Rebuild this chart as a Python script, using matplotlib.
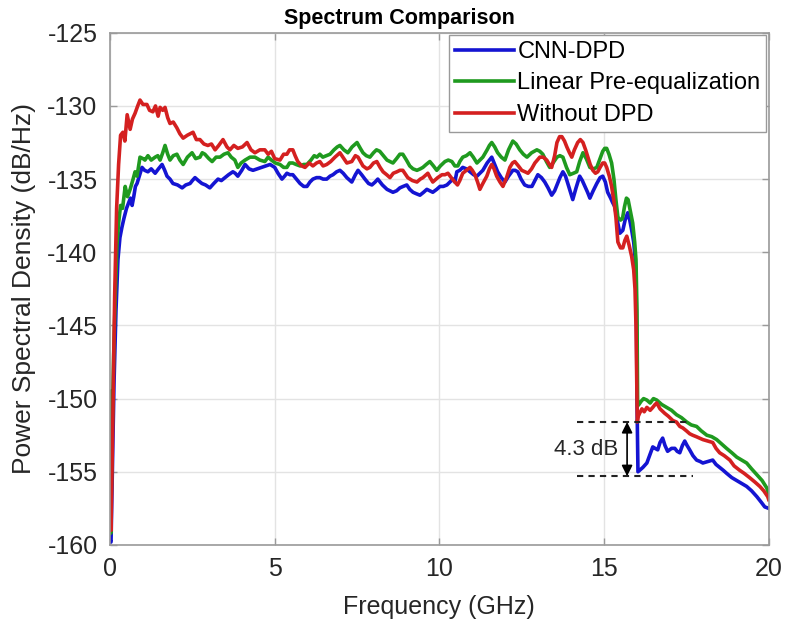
import matplotlib
matplotlib.use('Agg')
import matplotlib.pyplot as plt

plt.rcParams['font.family'] = ['Liberation Sans', 'DejaVu Sans']
plt.rcParams['axes.unicode_minus'] = False

# ---- data (frequency in GHz, PSD in dB/Hz) ----
cnn_freq = [0.00, 0.03, 0.07, 0.12, 0.18, 0.24, 0.30, 0.36, 0.42, 0.50, 0.57, 0.62, 0.67, 0.72, 0.77,
            0.82, 0.90, 0.97, 1.05, 1.15, 1.25, 1.37, 1.47, 1.58, 1.66, 1.73, 1.82, 1.91, 2.05, 2.19,
            2.30, 2.43, 2.50, 2.58, 2.68, 2.79, 2.90, 3.03, 3.15, 3.28, 3.38, 3.49, 3.60, 3.73, 3.80,
            3.88, 4.00, 4.10, 4.22, 4.34, 4.47, 4.61, 4.74, 4.86, 5.00, 5.10, 5.22, 5.30, 5.37, 5.46,
            5.55, 5.66, 5.77, 5.88, 5.98, 6.07, 6.16, 6.27, 6.37, 6.47, 6.58, 6.68, 6.77, 6.88, 6.98,
            7.08, 7.19, 7.34, 7.45, 7.53, 7.64, 7.74, 7.85, 7.95, 8.05, 8.13, 8.27, 8.41, 8.50, 8.59,
            8.70, 8.80, 8.90, 9.01, 9.10, 9.20, 9.30, 9.41, 9.52, 9.62, 9.71, 9.80, 9.92, 10.02, 10.12,
            10.23, 10.32, 10.41, 10.47, 10.53, 10.62, 10.71, 10.82, 10.93, 11.04, 11.14, 11.23, 11.32,
            11.45, 11.59, 11.68, 11.77, 11.88, 11.99, 12.10, 12.23, 12.30, 12.38, 12.48, 12.59, 12.70,
            12.81, 12.90, 12.99, 13.10, 13.20, 13.30, 13.41, 13.50, 13.57, 13.66, 13.75, 13.83, 13.90,
            13.98, 14.05, 14.15, 14.26, 14.34, 14.42, 14.50, 14.57, 14.67, 14.78, 14.88, 14.96, 15.04,
            15.11, 15.20, 15.26, 15.33, 15.40, 15.48, 15.57, 15.64, 15.72, 15.78, 15.84, 15.90, 15.94,
            15.97, 15.99, 16.00, 16.03, 16.08, 16.18, 16.30, 16.40, 16.48, 16.55, 16.63, 16.70, 16.78,
            16.85, 16.93, 17.05, 17.15, 17.22, 17.30, 17.38, 17.45, 17.52, 17.60, 17.70, 17.81, 17.92,
            18.00, 18.15, 18.30, 18.40, 18.51, 18.62, 18.72, 18.88, 19.03, 19.18, 19.33, 19.48, 19.64,
            19.78, 19.88, 20.00]
cnn_psd = [-159.7, -159.8, -155.0, -149.0, -144.0, -140.5, -139.0, -138.3, -137.7, -137.0, -136.6, -136.3,
           -136.8, -136.2, -135.5, -135.3, -134.7, -134.2, -134.4, -134.5, -134.3, -134.6, -134.3, -134.0,
           -134.4, -134.8, -135.0, -135.3, -135.4, -135.6, -135.4, -135.3, -135.1, -134.9, -135.1, -135.3,
           -135.4, -135.6, -135.3, -135.0, -135.1, -134.9, -134.7, -134.5, -134.6, -134.8, -134.4, -134.0,
           -134.3, -134.4, -134.3, -134.2, -134.1, -134.0, -134.2, -134.6, -135.0, -134.8, -134.6, -134.7,
           -134.7, -135.0, -135.3, -135.5, -135.5, -135.2, -135.0, -134.9, -134.9, -135.0, -135.0, -134.8,
           -134.7, -134.5, -134.4, -134.6, -134.9, -135.2, -134.7, -134.4, -134.7, -135.0, -135.3, -135.4,
           -135.2, -135.0, -135.4, -135.7, -135.8, -135.9, -135.8, -135.6, -135.5, -135.4, -135.7, -135.9,
           -136.0, -136.1, -135.9, -135.7, -135.8, -135.9, -135.7, -135.5, -135.5, -135.4, -135.2, -135.0,
           -135.2, -134.5, -134.4, -134.2, -134.3, -134.5, -134.7, -134.8, -134.6, -134.4, -133.9, -133.5,
           -134.0, -134.5, -134.9, -135.2, -134.8, -134.4, -134.4, -134.5, -135.0, -135.4, -135.5, -135.5,
           -135.1, -134.7, -134.9, -135.2, -135.6, -136.1, -135.8, -135.4, -134.9, -134.5, -134.8, -135.3,
           -135.9, -136.4, -135.6, -134.8, -135.1, -135.5, -135.9, -136.3, -135.8, -135.3, -134.9, -134.8,
           -135.2, -135.9, -136.3, -136.6, -136.9, -137.8, -138.7, -138.5, -137.8, -137.3, -137.8, -138.5,
           -139.3, -140.3, -141.5, -146.0, -150.0, -155.0, -154.9, -154.7, -154.4, -153.8, -153.3, -153.4,
           -153.5, -153.0, -152.7, -153.2, -153.6, -153.4, -153.4, -153.6, -153.7, -153.2, -152.9, -153.2,
           -153.5, -153.9, -154.2, -154.3, -154.4, -154.3, -154.2, -154.5, -154.7, -154.9, -155.1, -155.4,
           -155.6, -155.8, -156.0, -156.3, -156.7, -157.1, -157.4, -157.5]

lin_freq = [0.00, 0.02, 0.06, 0.11, 0.16, 0.21, 0.26, 0.32, 0.38, 0.46, 0.53, 0.61, 0.70, 0.76, 0.82,
            0.91, 1.00, 1.06, 1.15, 1.25, 1.37, 1.45, 1.52, 1.60, 1.67, 1.75, 1.82, 1.92, 2.03, 2.12,
            2.22, 2.35, 2.49, 2.60, 2.73, 2.80, 2.88, 3.00, 3.10, 3.22, 3.34, 3.46, 3.58, 3.68, 3.79,
            3.88, 3.98, 4.10, 4.25, 4.40, 4.55, 4.70, 4.80, 4.90, 5.02, 5.16, 5.27, 5.37, 5.45, 5.55,
            5.65, 5.77, 5.88, 5.98, 6.10, 6.20, 6.28, 6.37, 6.46, 6.57, 6.68, 6.80, 6.90, 6.98, 7.10,
            7.22, 7.35, 7.50, 7.60, 7.68, 7.78, 7.89, 8.00, 8.09, 8.19, 8.30, 8.41, 8.50, 8.59, 8.70,
            8.80, 8.89, 9.00, 9.10, 9.20, 9.32, 9.42, 9.50, 9.60, 9.71, 9.82, 9.92, 10.03, 10.17, 10.27,
            10.38, 10.47, 10.56, 10.62, 10.71, 10.82, 10.93, 11.03, 11.14, 11.23, 11.32, 11.45, 11.52,
            11.59, 11.68, 11.77, 11.88, 11.99, 12.10, 12.23, 12.33, 12.44, 12.55, 12.66, 12.80, 12.96,
            13.05, 13.14, 13.25, 13.35, 13.45, 13.57, 13.66, 13.75, 13.86, 13.96, 14.07, 14.17, 14.26,
            14.36, 14.46, 14.57, 14.68, 14.78, 14.88, 14.96, 15.02, 15.08, 15.15, 15.23, 15.30, 15.36,
            15.42, 15.50, 15.56, 15.62, 15.68, 15.73, 15.80, 15.87, 15.93, 15.97, 16.00, 16.02, 16.06,
            16.12, 16.20, 16.30, 16.40, 16.50, 16.60, 16.75, 16.90, 17.05, 17.20, 17.35, 17.51, 17.65,
            17.81, 17.95, 18.12, 18.27, 18.42, 18.57, 18.72, 18.88, 19.03, 19.18, 19.33, 19.48, 19.64,
            19.80, 19.94, 20.00]
lin_psd = [-149.5, -159.2, -153.0, -147.0, -143.0, -139.5, -138.0, -136.8, -137.0, -135.5, -136.2, -135.7,
           -135.0, -134.5, -134.8, -133.5, -133.6, -133.7, -133.4, -133.7, -133.5, -133.4, -133.7, -133.2,
           -132.7, -133.3, -133.7, -133.4, -133.3, -133.7, -134.0, -133.5, -133.2, -133.6, -133.5, -133.2,
           -133.3, -133.6, -133.8, -133.5, -133.5, -133.3, -133.2, -133.5, -133.7, -134.2, -133.9, -133.7,
           -133.5, -133.5, -133.7, -133.8, -133.5, -133.7, -133.9, -134.0, -134.2, -134.2, -133.9, -133.9,
           -134.0, -134.1, -134.0, -134.0, -133.7, -133.4, -133.5, -133.3, -133.5, -133.4, -133.3, -133.0,
           -132.8, -132.7, -133.0, -133.2, -132.8, -132.5, -132.9, -133.2, -133.4, -133.5, -133.2, -133.0,
           -133.1, -133.4, -133.7, -133.8, -133.9, -133.6, -133.3, -133.3, -133.7, -134.1, -134.3, -134.4,
           -134.3, -134.2, -134.0, -133.8, -134.1, -134.4, -134.1, -133.8, -133.7, -133.8, -134.1, -134.1,
           -133.8, -133.5, -133.4, -133.2, -133.5, -133.9, -133.7, -133.5, -133.0, -132.7, -132.5, -132.8,
           -133.2, -133.5, -133.7, -133.0, -132.4, -132.6, -133.0, -133.3, -133.5, -133.2, -133.0, -133.1,
           -133.3, -133.8, -134.2, -133.9, -133.5, -133.4, -133.5, -134.2, -134.7, -134.6, -134.5, -133.8,
           -133.2, -133.6, -134.2, -134.3, -134.2, -133.6, -133.1, -132.9, -132.9, -133.3, -133.9, -135.0,
           -136.4, -137.6, -137.8, -137.7, -136.9, -136.3, -136.4, -137.2, -138.0, -139.3, -140.5, -144.0,
           -150.5, -150.4, -150.2, -150.0, -150.1, -150.3, -150.0, -150.1, -150.4, -150.6, -150.8, -151.1,
           -151.3, -151.6, -151.8, -151.9, -152.2, -152.5, -152.6, -152.8, -153.1, -153.4, -153.7, -154.0,
           -154.2, -154.4, -154.8, -155.2, -155.6, -156.1, -156.5]

raw_freq = [0.00, 0.03, 0.08, 0.14, 0.20, 0.26, 0.32, 0.39, 0.45, 0.52, 0.61, 0.68, 0.76, 0.84, 0.91,
            1.00, 1.12, 1.20, 1.30, 1.38, 1.46, 1.52, 1.60, 1.67, 1.75, 1.82, 1.92, 2.03, 2.12, 2.22,
            2.35, 2.52, 2.62, 2.73, 2.85, 2.97, 3.08, 3.19, 3.30, 3.43, 3.55, 3.64, 3.76, 3.88, 4.02,
            4.16, 4.28, 4.40, 4.55, 4.70, 4.80, 4.90, 5.00, 5.16, 5.27, 5.37, 5.45, 5.55, 5.62, 5.70,
            5.82, 5.92, 6.05, 6.16, 6.27, 6.37, 6.47, 6.58, 6.70, 6.83, 6.98, 7.10, 7.19, 7.34, 7.45,
            7.53, 7.68, 7.80, 7.89, 8.00, 8.10, 8.20, 8.29, 8.40, 8.50, 8.60, 8.71, 8.80, 8.89, 9.04,
            9.18, 9.32, 9.42, 9.50, 9.65, 9.72, 9.80, 9.95, 10.08, 10.17, 10.26, 10.36, 10.47, 10.55,
            10.62, 10.71, 10.82, 10.93, 11.00, 11.08, 11.16, 11.23, 11.32, 11.44, 11.52, 11.59, 11.66,
            11.74, 11.84, 11.93, 12.04, 12.14, 12.22, 12.29, 12.40, 12.50, 12.60, 12.69, 12.80, 12.90,
            13.05, 13.15, 13.26, 13.34, 13.41, 13.50, 13.57, 13.65, 13.72, 13.80, 13.87, 13.95, 14.02,
            14.10, 14.20, 14.28, 14.36, 14.44, 14.51, 14.58, 14.66, 14.74, 14.81, 14.88, 14.96, 15.02,
            15.08, 15.16, 15.23, 15.30, 15.36, 15.42, 15.50, 15.57, 15.63, 15.69, 15.76, 15.84, 15.90,
            15.94, 15.97, 15.99, 16.01, 16.04, 16.08, 16.15, 16.22, 16.30, 16.40, 16.48, 16.55, 16.60,
            16.70, 16.84, 16.95, 17.09, 17.20, 17.30, 17.39, 17.50, 17.60, 17.69, 17.80, 17.90, 18.00,
            18.15, 18.30, 18.40, 18.51, 18.65, 18.82, 18.95, 19.12, 19.25, 19.42, 19.58, 19.73, 19.85,
            19.97, 20.00]
raw_psd = [-157.0, -159.0, -152.0, -143.0, -137.0, -134.0, -132.0, -131.8, -132.4, -130.6, -131.6, -130.9,
           -130.5, -130.0, -129.6, -129.9, -129.9, -130.3, -130.4, -130.0, -130.7, -130.1, -130.3, -130.1,
           -130.8, -131.2, -131.1, -131.5, -131.9, -132.2, -132.0, -131.8, -132.3, -132.3, -132.6, -132.7,
           -132.6, -133.0, -132.7, -132.3, -132.8, -133.0, -132.7, -132.9, -132.8, -132.5, -133.0, -133.2,
           -133.0, -133.0, -133.3, -133.1, -133.6, -133.7, -133.3, -133.3, -133.0, -133.0, -133.4, -133.8,
           -134.1, -134.2, -133.9, -134.1, -133.9, -133.8, -134.1, -134.0, -133.8, -133.5, -133.2, -133.6,
           -133.9, -133.8, -133.4, -133.5, -134.1, -134.3, -134.2, -133.9, -133.8, -134.2, -134.5, -134.7,
           -134.9, -134.6, -134.5, -134.4, -134.4, -134.9, -135.1, -135.2, -135.0, -134.9, -134.6, -134.9,
           -135.2, -134.9, -134.7, -134.7, -134.6, -134.9, -135.2, -135.4, -135.1, -134.6, -134.4, -134.2,
           -134.4, -134.7, -135.2, -135.7, -135.3, -134.8, -134.3, -134.0, -134.3, -134.8, -135.2, -135.5,
           -134.9, -134.2, -133.9, -133.8, -134.1, -134.4, -134.5, -134.6, -134.3, -133.9, -133.5, -133.5,
           -133.7, -134.0, -134.2, -133.4, -132.5, -132.1, -132.1, -132.4, -132.8, -133.2, -133.5, -133.0,
           -132.5, -132.3, -132.5, -133.0, -133.5, -134.0, -134.4, -134.6, -134.5, -134.2, -133.9, -133.9,
           -134.2, -134.8, -135.5, -136.5, -137.6, -139.3, -139.7, -139.7, -139.2, -138.9, -139.5, -140.3,
           -141.2, -142.5, -145.0, -148.5, -151.6, -151.2, -151.0, -150.7, -150.9, -150.6, -150.8, -150.6,
           -150.4, -150.3, -150.7, -151.0, -151.2, -151.5, -151.6, -151.9, -152.0, -152.2, -152.4, -152.5,
           -152.6, -152.7, -152.8, -152.9, -153.0, -153.4, -153.7, -153.9, -154.2, -154.6, -154.9, -155.1,
           -155.4, -155.7, -156.0, -156.3, -156.7, -156.9]

labels = ['CNN-DPD', 'Linear Pre-equalization', 'Without DPD']
colors = ['#1414d2', '#1f9a1f', '#d42020']

# 4.3 dB gap marker
gap_top = -151.6
gap_bottom = -155.3
gap_freq = 15.7

fig = plt.figure(figsize=(7.86, 6.3), dpi=100)
ax = fig.add_axes([0.140, 0.135, 0.838, 0.813])

ax.plot(cnn_freq, cnn_psd, color=colors[0], lw=2.6, label=labels[0])
ax.plot(lin_freq, lin_psd, color=colors[1], lw=2.6, label=labels[1])
ax.plot(raw_freq, raw_psd, color=colors[2], lw=2.6, label=labels[2])

# annotation: dashed guides, double arrow and text
ax.plot([14.17, 17.6], [gap_top, gap_top], color='#222222', lw=1.5, ls=(0, (3, 2.5)))
ax.plot([14.17, 17.7], [gap_bottom, gap_bottom], color='#222222', lw=1.5, ls=(0, (3, 2.5)))
ax.annotate('', xy=(gap_freq, gap_bottom), xytext=(gap_freq, gap_top),
            arrowprops=dict(arrowstyle='<|-|>', color='black', lw=1.2,
                            mutation_scale=16, shrinkA=0, shrinkB=0))
ax.text(15.42, (gap_top + gap_bottom) / 2, '4.3 dB', ha='right', va='center',
        fontsize=16, color='#262626')

ax.set_xlim(0, 20)
ax.set_ylim(-160, -125)
ax.set_xticks([0, 5, 10, 15, 20])
ax.set_yticks([-160, -155, -150, -145, -140, -135, -130, -125])
ax.grid(True, color='#e3e3e3', lw=1.0)
ax.set_axisbelow(True)
ax.tick_params(direction='in', length=5, width=1, color='#9a9a9a',
               labelsize=18, labelcolor='#262626', top=True, right=True,
               labeltop=False, labelright=False, pad=9)
for s in ax.spines.values():
    s.set_color('#9a9a9a')
    s.set_linewidth(1.2)

ax.set_xlabel('Frequency (GHz)', fontsize=18, color='#262626', labelpad=10)
ax.set_ylabel('Power Spectral Density (dB/Hz)', fontsize=19, color='#262626', labelpad=8)
ax.set_title('Spectrum Comparison', fontsize=15.5, fontweight='bold', color='black',
             x=0.44, pad=6)

leg = ax.legend(loc='upper right', fontsize=17, frameon=True, fancybox=False,
                borderaxespad=0.1, borderpad=0.25, labelspacing=0.4,
                handlelength=2.5, handletextpad=0.15, framealpha=1)
leg.get_frame().set_edgecolor('#9a9a9a')
leg.get_frame().set_linewidth(1.0)

fig.savefig('out.png', dpi=100)
